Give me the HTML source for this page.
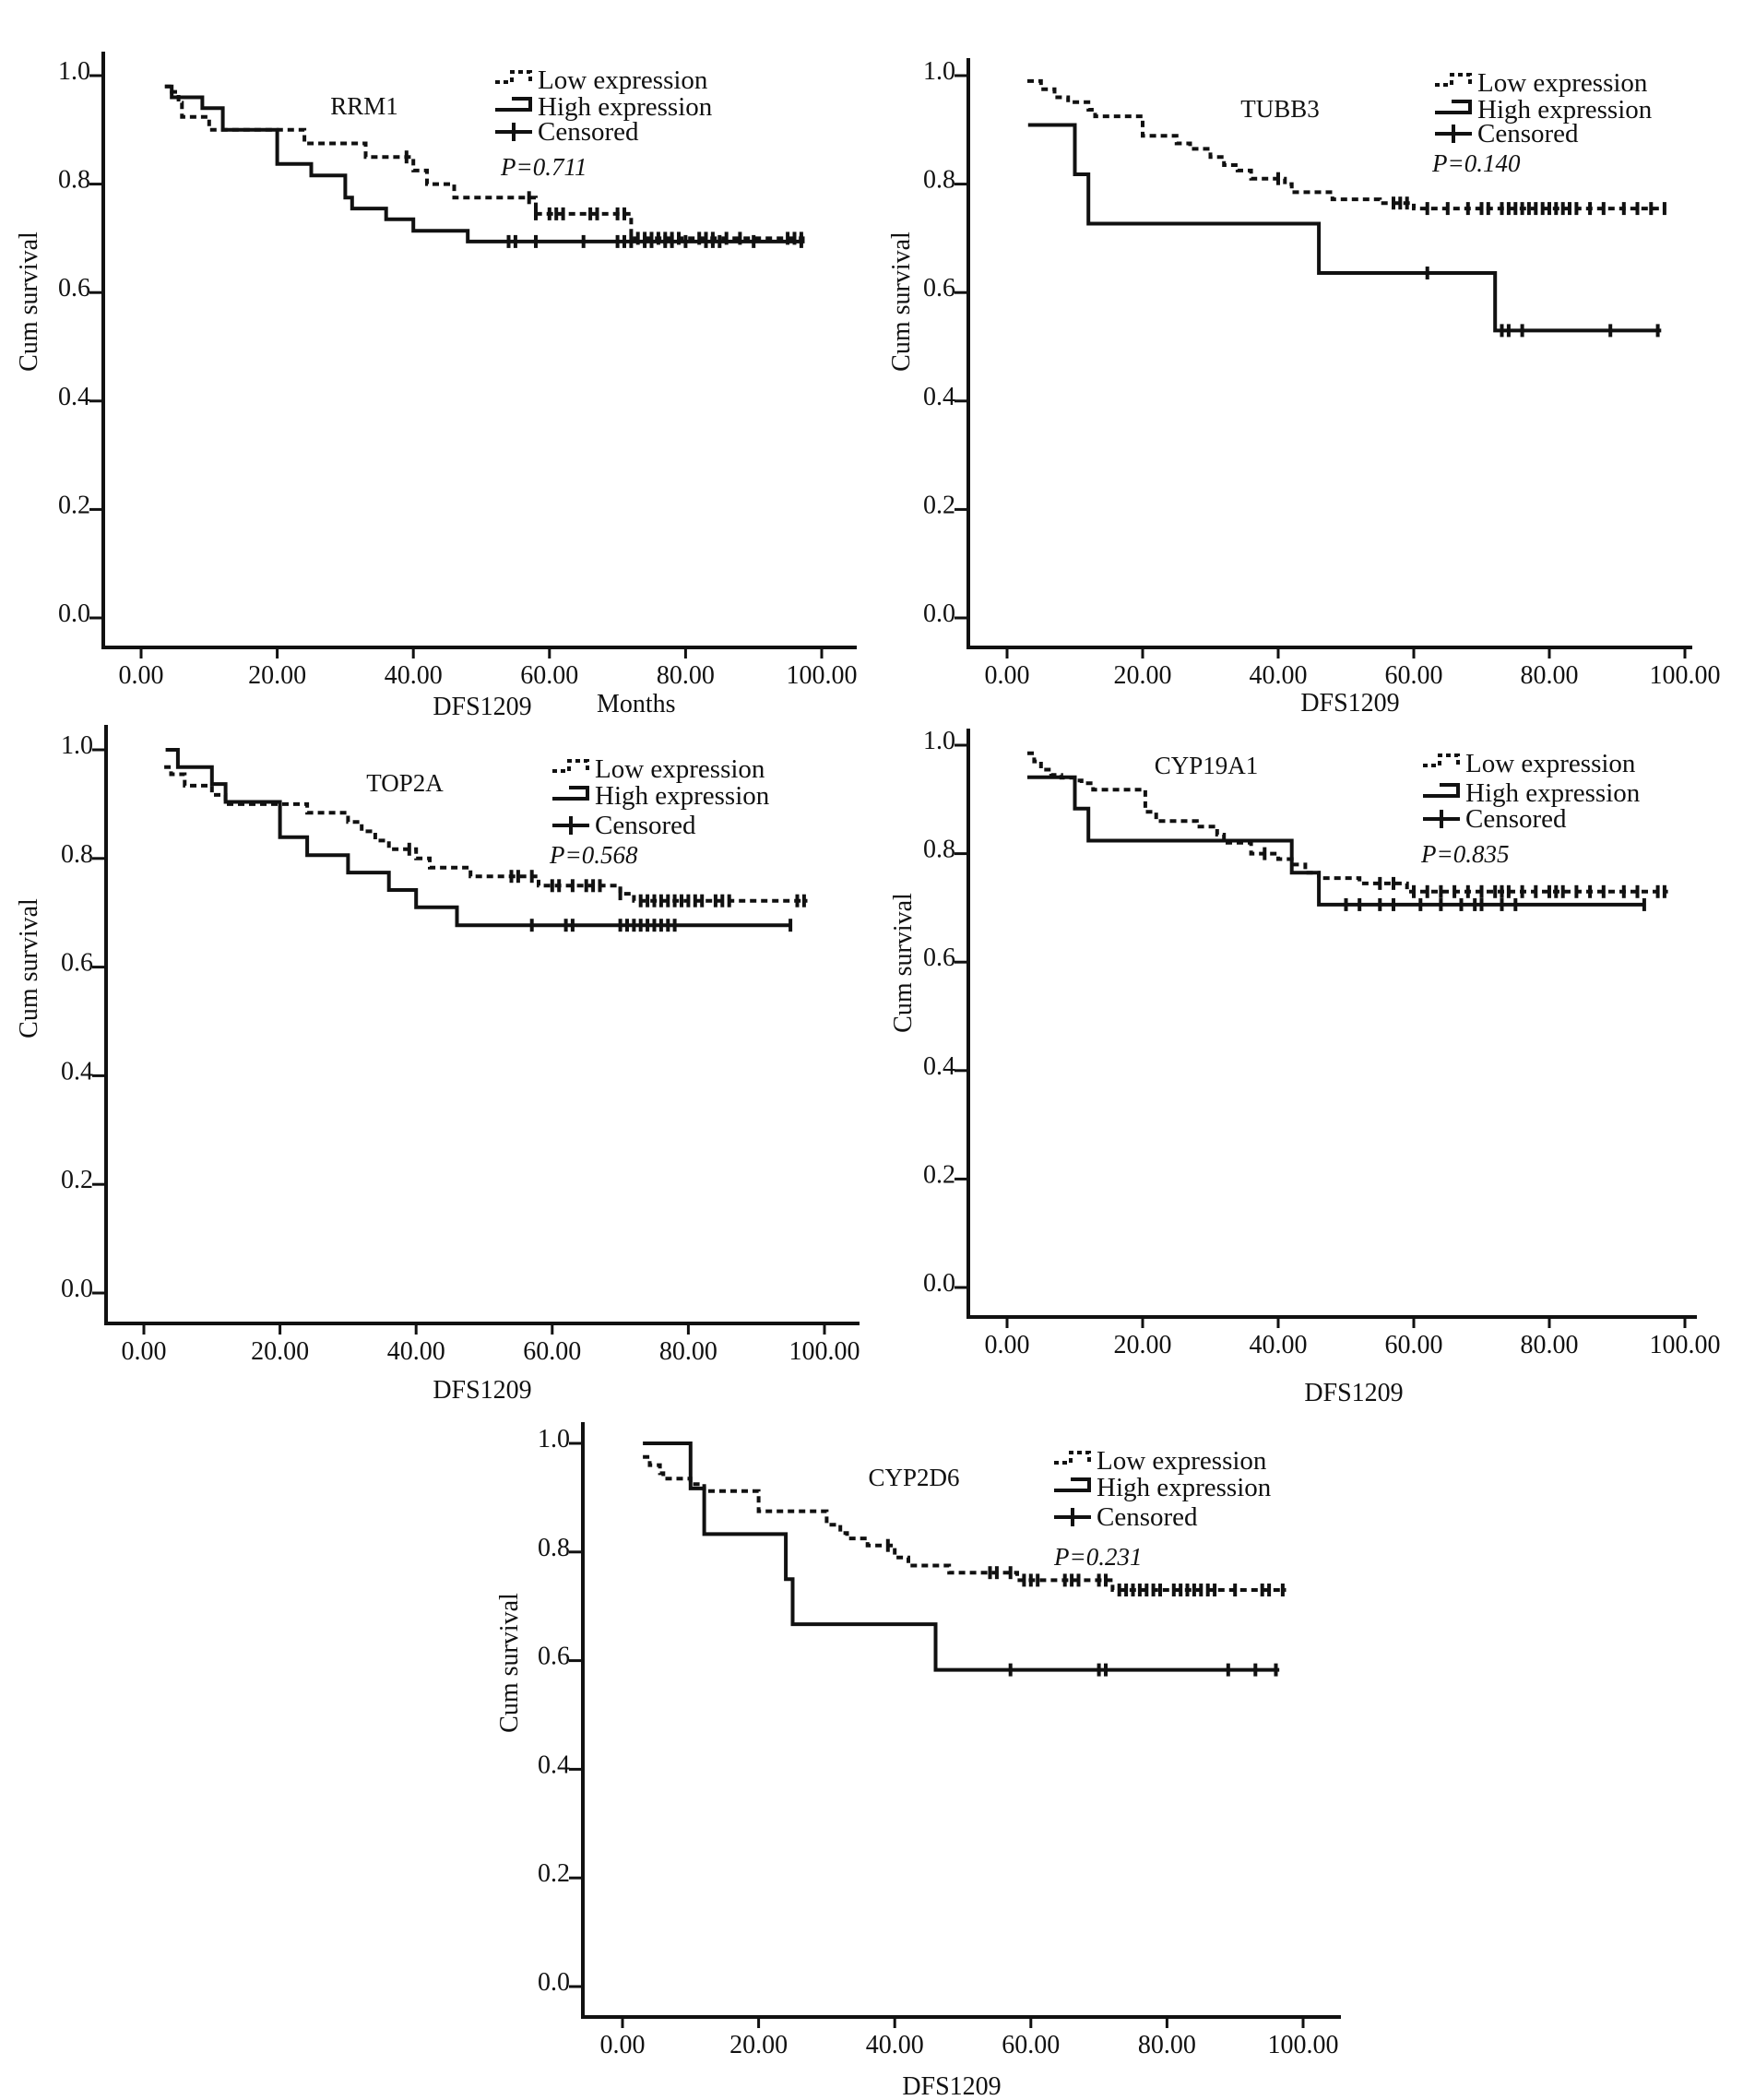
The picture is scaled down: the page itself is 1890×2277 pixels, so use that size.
<!DOCTYPE html>
<html><head><meta charset="utf-8">
<style>
html,body{margin:0;padding:0;background:#fff;}
svg{display:block;}
text{font-family:"Liberation Serif",serif;fill:#111;}
</style></head>
<body>
<svg id="fig" width="1890" height="2277" viewBox="0 0 1890 2277" xmlns="http://www.w3.org/2000/svg"></svg>
<script>
// ---------- RRM1 ----------
const rrm1LowT = [4.5,5.5,6,10,24,33,40,42,46,58,72];
const rrm1LowS = [0.97,0.95,0.924,0.90,0.875,0.85,0.825,0.80,0.775,0.745,0.70];
const rrm1LowCens = [39,57,58,60,61,62,66,67,70,71,73,74,75,76,77,78,79,82,83,84,86,88,95,96,97];
const rrm1HighT = [4.5,9,12,20,25,30,31,36,40,48];
const rrm1HighS = [0.96,0.94,0.90,0.837,0.816,0.775,0.755,0.735,0.714,0.694];
const rrm1HighCens = [54,55,58,65,70,71,72,74,75,77,78,80,83,84,85,90,97];
// ---------- TUBB3 ----------
const tubbLowT = [5,7,9,12,13,20,25,27,30,32,34,36,41,42,48,55,60];
const tubbLowS = [0.975,0.96,0.951,0.937,0.925,0.889,0.875,0.865,0.85,0.835,0.825,0.81,0.80,0.785,0.772,0.765,0.755];
const tubbLowCens = [40,57,58,59,62,65,68,70,71,73,74,75,76,77,78,79,80,81,82,83,84,86,88,91,93,95,97];
const tubbHighT = [10,12,46,72];
const tubbHighS = [0.818,0.727,0.636,0.53];
const tubbHighCens = [62,73,74,76,89,96];
// ---------- TOP2A ----------
const topLowT = [4,6,10,12,24,30,32,34,36,40,42,48,58,70,72];
const topLowS = [0.955,0.934,0.917,0.90,0.884,0.867,0.85,0.833,0.817,0.80,0.783,0.767,0.75,0.735,0.722];
const topLowCens = [39,54,55,57,60,61,63,65,66,67,70,73,74,75,76,77,78,79,80,81,82,84,85,86,96,97];
const topHighT = [5,10,12,20,24,30,36,40,46];
const topHighS = [0.968,0.937,0.904,0.839,0.806,0.774,0.742,0.71,0.677];
const topHighCens = [57,62,63,70,71,72,73,74,75,76,77,78,95];
// ---------- CYP19A1 ----------
const cypLowT = [4,5,6.5,8,10,11,12.7,20.4,22,28,31,32,36,40,42,44,46,52,59];
const cypLowS = [0.97,0.955,0.945,0.94,0.935,0.93,0.918,0.877,0.86,0.85,0.835,0.82,0.80,0.79,0.78,0.765,0.755,0.745,0.73];
const cypLowCens = [38,55,57,60,62,64,66,68,70,72,73,74,76,78,80,81,82,84,86,88,91,93,96,97];
const cypHighT = [10,12,42,46];
const cypHighS = [0.883,0.824,0.765,0.706];
const cypHighCens = [50,52,55,57,61,64,67,69,70,73,75,94];
// ---------- CYP2D6 ----------
const d6LowT = [4,5.5,6,10,12,20,30,32,33,36,40,42,48,58,72];
const d6LowS = [0.96,0.945,0.935,0.925,0.912,0.875,0.85,0.835,0.825,0.812,0.79,0.775,0.762,0.748,0.73];
const d6LowCens = [39,54,55,57,59,60,61,65,66,67,70,71,73,74,75,76,77,78,79,81,82,83,84,85,86,87,90,94,95,97];
const d6HighT = [10,12,24,25,46];
const d6HighS = [0.917,0.833,0.75,0.667,0.583];
const d6HighCens = [57,70,71,89,93,96];

const xTicks = ["0.00","20.00","40.00","60.00","80.00","100.00"];
const yTicks = ["0.0","0.2","0.4","0.6","0.8","1.0"];

const NS = "http://www.w3.org/2000/svg";
const fig = document.getElementById('fig');
function mk(tag, attrs, parent){
  const e = document.createElementNS(NS, tag);
  for (const k in attrs) e.setAttribute(k, attrs[k]);
  (parent||fig).appendChild(e);
  return e;
}
function survAt(t, s0, T, S){
  let s = s0;
  for (let i=0;i<T.length;i++){ if (T[i] <= t) s = S[i]; }
  return s;
}
function stepD(sx, sy, t0, s0, T, S, tEnd){
  let d = "M"+sx(t0)+" "+sy(s0);
  for (let i=0;i<T.length;i++){ d += " H"+sx(T[i])+" V"+sy(S[i]); }
  d += " H"+sx(tEnd);
  return d;
}

const panels = [
 {key:'rrm1', title:'RRM1', ax:112, top:56, bot:702, right:929, x0:153, ux:7.38, y1:82, y0:670,
  low:{t0:3.5,s0:0.98,T:rrm1LowT,S:rrm1LowS,C:rrm1LowCens,end:97.5},
  high:{t0:3.5,s0:0.98,T:rrm1HighT,S:rrm1HighS,C:rrm1HighCens,end:97.5},
  tx:395, ty:124, lx:583, ly:[96,125,152], p:'0.711', px:543, py:190,
  xl:{x:523,y:775}, months:{x:647,y:772}, yl:{x:31,y:327}},
 {key:'tubb3', title:'TUBB3', ax:1050, top:63, bot:702, right:1835, x0:1092, ux:7.35, y1:82, y0:670,
  low:{t0:3,s0:0.99,T:tubbLowT,S:tubbLowS,C:tubbLowCens,end:97},
  high:{t0:3.1,s0:0.909,T:tubbHighT,S:tubbHighS,C:tubbHighCens,end:96.5},
  tx:1388, ty:127, lx:1602, ly:[99,128,154], p:'0.140', px:1553, py:186,
  xl:{x:1464,y:771}, yl:{x:977,y:327}},
 {key:'top2a', title:'TOP2A', ax:115, top:786, bot:1435, right:932, x0:156, ux:7.38, y1:813, y0:1402,
  low:{t0:3,s0:0.968,T:topLowT,S:topLowS,C:topLowCens,end:97.5},
  high:{t0:3.2,s0:1.0,T:topHighT,S:topHighS,C:topHighCens,end:95},
  tx:439, ty:858, lx:645, ly:[843,872,904], p:'0.568', px:596, py:936,
  xl:{x:523,y:1516}, yl:{x:31,y:1050}},
 {key:'cyp19a1', title:'CYP19A1', ax:1050, top:790, bot:1428, right:1840, x0:1092, ux:7.35, y1:808, y0:1396,
  low:{t0:3,s0:0.985,T:cypLowT,S:cypLowS,C:cypLowCens,end:97.5},
  high:{t0:3,s0:0.941,T:cypHighT,S:cypHighS,C:cypHighCens,end:94},
  tx:1308, ty:839, lx:1589, ly:[837,869,897], p:'0.835', px:1541, py:935,
  xl:{x:1468,y:1519}, yl:{x:979,y:1044}},
 {key:'cyp2d6', title:'CYP2D6', ax:632, top:1542, bot:2187, right:1454, x0:675, ux:7.38, y1:1565, y0:2154,
  low:{t0:3,s0:0.975,T:d6LowT,S:d6LowS,C:d6LowCens,end:97.5},
  high:{t0:3,s0:1.0,T:d6HighT,S:d6HighS,C:d6HighCens,end:96.5},
  tx:991, ty:1611, lx:1189, ly:[1593,1622,1654], p:'0.231', px:1143, py:1697,
  xl:{x:1032,y:2271}, yl:{x:552,y:1803}}
];

panels.forEach(P => {
  const g = mk('g', {});
  
  
  const sx = v => +(P.x0 + v*P.ux).toFixed(1);
  const sy = v => +(P.y0 - v*(P.y0-P.y1)).toFixed(1);

  const axes = mk('path', {d:`M${P.ax} ${P.top} V${P.bot} H${P.right}`, fill:'none', stroke:'#111', 'stroke-width':4}, g);
  
  

  yTicks.forEach((lab, i) => {
    const v = i*0.2, y = sy(v);
    const tk = mk('line', {x1:P.ax-15, x2:P.ax, y1:y, y2:y, stroke:'#111', 'stroke-width':3}, g);
    
    
    const t = mk('text', {x:P.ax-14, y:y+4, 'font-size':28, 'text-anchor':'end'}, g);
    t.textContent = lab;
    
    
  });
  xTicks.forEach((lab, i) => {
    const x = sx(i*20);
    const tk = mk('line', {x1:x, x2:x, y1:P.bot, y2:P.bot+12, stroke:'#111', 'stroke-width':3}, g);
    
    
    const t = mk('text', {x:x, y:P.bot+39, 'font-size':28, 'text-anchor':'middle'}, g);
    t.textContent = lab;
    
    
  });

  const xt = mk('text', {x:P.xl.x, y:P.xl.y, 'font-size':28, 'text-anchor':'middle'}, g);
  xt.textContent = 'DFS1209';
  
  
  if (P.months){
    const mt = mk('text', {x:P.months.x, y:P.months.y, 'font-size':28}, g);
    mt.textContent = 'Months';
    
    
  }
  const yt = mk('text', {x:P.yl.x, y:P.yl.y, 'font-size':28, 'text-anchor':'middle', transform:`rotate(-90 ${P.yl.x} ${P.yl.y})`, dy:9}, g);
  yt.textContent = 'Cum survival';
  
  

  const tt = mk('text', {x:P.tx, y:P.ty, 'font-size':27, 'text-anchor':'middle'}, g);
  tt.textContent = P.title;
  
  

  [['low', P.low, '7 5'], ['high', P.high, null]].forEach(([nm, D, dash]) => {
    const attrs = {d:stepD(sx, sy, D.t0, D.s0, D.T, D.S, D.end), fill:'none', stroke:'#111', 'stroke-width':4};
    if (dash) attrs['stroke-dasharray'] = dash;
    const path = mk('path', attrs, g);
    
    
    D.C.forEach(c => {
      const y = sy(survAt(c, D.s0, D.T, D.S)), x = sx(c);
      const cm = mk('line', {x1:x, x2:x, y1:y-7, y2:y+7, stroke:'#111', 'stroke-width':4}, g);
      
      
    });
  });

  const lg = mk('g', {}, g);
  
  
  const kx = P.lx - 46;
  const k1 = mk('path', {d:`M${kx} ${P.ly[0]-7} H${kx+18} V${P.ly[0]-18} H${kx+38} V${P.ly[0]-7}`, fill:'none', stroke:'#111', 'stroke-width':4, 'stroke-dasharray':'5 4'}, lg);
  
  
  const k2 = mk('path', {d:`M${kx} ${P.ly[1]-6} H${kx+38} V${P.ly[1]-18} H${kx+18}`, fill:'none', stroke:'#111', 'stroke-width':4}, lg);
  
  
  const k3 = mk('path', {d:`M${kx} ${P.ly[2]-9} H${kx+40} M${kx+20} ${P.ly[2]-19} V${P.ly[2]+1}`, fill:'none', stroke:'#111', 'stroke-width':4}, lg);
  
  
  ['Low expression','High expression','Censored'].forEach((s, i) => {
    const t = mk('text', {x:P.lx, y:P.ly[i], 'font-size':29}, lg);
    t.textContent = s;
    
    
  });
  const pt = mk('text', {x:P.px, y:P.py, 'font-size':27, 'font-style':'italic'}, g);
  pt.textContent = 'P=' + P.p;
  
  
});
</script>
</body></html>
